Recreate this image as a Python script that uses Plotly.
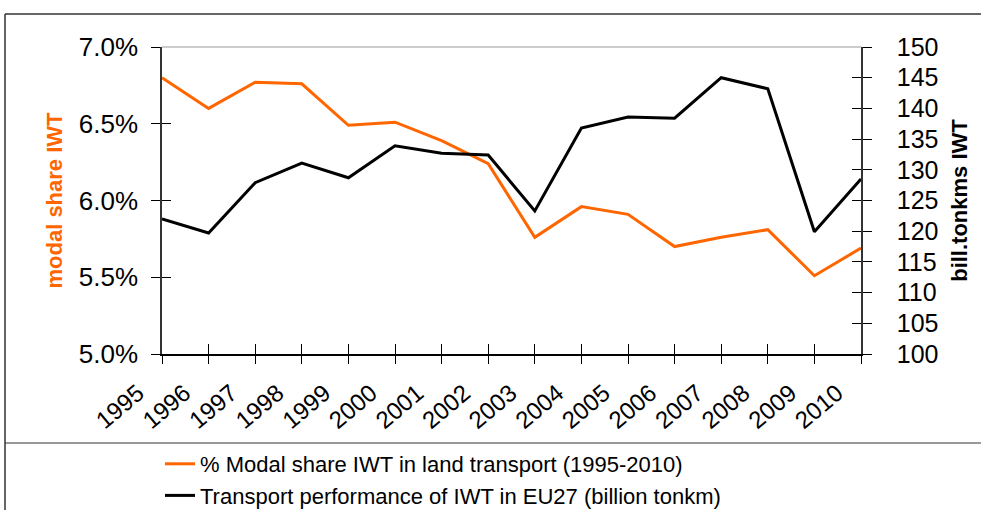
import plotly.graph_objects as go

years = [str(y) for y in range(1995, 2011)]
modal_share = [6.80, 6.60, 6.77, 6.76, 6.49, 6.51, 6.39, 6.24, 5.76, 5.96, 5.91, 5.70, 5.76, 5.81, 5.51, 5.69]
performance = [122.0, 119.7, 127.9, 131.1, 128.7, 133.9, 132.7, 132.4, 123.3, 136.8, 138.6, 138.4, 145.0, 143.2, 119.9, 128.5]
left_ticks = [5.0, 5.5, 6.0, 6.5, 7.0]
left_ticktext = ["5.0%", "5.5%", "6.0%", "6.5%", "7.0%"]
right_ticks = list(range(100, 151, 5))

name_share = "% Modal share IWT in land transport (1995-2010)"
name_perf = "Transport performance of IWT in EU27 (billion tonkm)"

ORANGE = "#FF6600"
FONT = "Liberation Sans, Arial, sans-serif"

fig = go.Figure()
fig.add_trace(go.Scatter(x=years, y=modal_share, name=name_share, mode="lines",
                         line=dict(color=ORANGE, width=3), yaxis="y", legendgroup="a"))
fig.add_trace(go.Scatter(x=years, y=performance, name=name_perf, mode="lines",
                         line=dict(color="black", width=3), yaxis="y2", legendgroup="b"))
# helper traces for inner tick halves (invisible)
fig.add_trace(go.Scatter(x=years, y=modal_share, mode="lines", line=dict(width=0),
                         xaxis="x2", yaxis="y3", showlegend=False, hoverinfo="skip"))
fig.add_trace(go.Scatter(x=years, y=performance, mode="lines", line=dict(width=0),
                         xaxis="x2", yaxis="y4", showlegend=False, hoverinfo="skip"))

def px_x(p):
    return (p - 162) / 699

def px_y(p):
    return (354 - p) / 307

shapes = [
    dict(type="line", xref="paper", yref="paper", x0=px_x(5), x1=px_x(5), y0=px_y(14), y1=px_y(520),
         line=dict(color="#333333", width=1.5)),
    dict(type="line", xref="paper", yref="paper", x0=px_x(5), x1=px_x(990), y0=px_y(14), y1=px_y(14),
         line=dict(color="#333333", width=1.5)),
    dict(type="line", xref="paper", yref="paper", x0=px_x(5), x1=px_x(990), y0=px_y(443), y1=px_y(443),
         line=dict(color="#333333", width=1)),
    dict(type="line", xref="paper", yref="paper", x0=0, x1=1, y0=1, y1=1,
         line=dict(color="#999999", width=1)),
]

fig.update_layout(
    width=981, height=510,
    margin=dict(l=162, r=120, t=47, b=156, autoexpand=False),
    paper_bgcolor="white", plot_bgcolor="white",
    font=dict(family=FONT, color="black"),
    showlegend=True,
    legend=dict(x=px_x(160), y=px_y(443), xanchor="left", yanchor="top",
                font=dict(size=22, family=FONT), tracegroupgap=0, traceorder="grouped",
                bgcolor="rgba(0,0,0,0)"),
    shapes=shapes,
    xaxis=dict(type="category", range=[0, 15], showgrid=False, showline=True, linecolor="black",
               linewidth=1.5, ticks="outside", ticklen=8, tickcolor="black", tickwidth=1,
               tickangle=-40, tickfont=dict(size=24, family=FONT), zeroline=False,
               ticklabelstandoff=6, ticklabelshift=-24),
    xaxis2=dict(type="category", range=[0, 15], overlaying="x", showgrid=False, showline=False,
                ticks="inside", ticklen=10, tickcolor="black", tickwidth=1, showticklabels=False,
                zeroline=False),
    yaxis=dict(range=[5.0, 7.0], tickvals=left_ticks, ticktext=left_ticktext, showgrid=False,
               showline=True, linecolor="#333333", linewidth=1.5, ticks="outside", ticklen=9,
               tickcolor="black", tickwidth=1, tickfont=dict(size=26, family=FONT),
               ticklabelstandoff=8, zeroline=False,
               title=dict(text="<b>modal share IWT</b>", font=dict(size=22, color=ORANGE, family=FONT),
                          standoff=10)),
    yaxis2=dict(range=[100, 150], tickvals=right_ticks, overlaying="y", side="right", showgrid=False,
                showline=True, linecolor="#333333", linewidth=1.5, ticks="outside", ticklen=9,
                tickcolor="black", tickwidth=1, tickfont=dict(size=25, family=FONT),
                ticklabelstandoff=20, zeroline=False,
                title=dict(text="<b>bill.tonkms IWT</b>", font=dict(size=22, color="black", family=FONT),
                           standoff=14)),
    yaxis3=dict(range=[5.0, 7.0], tickvals=left_ticks, overlaying="y", side="left", showgrid=False,
                showline=False, ticks="inside", ticklen=9, tickcolor="black", tickwidth=1,
                showticklabels=False, zeroline=False),
    yaxis4=dict(range=[100, 150], tickvals=right_ticks, overlaying="y", side="right", showgrid=False,
                showline=False, ticks="inside", ticklen=9, tickcolor="black", tickwidth=1,
                showticklabels=False, zeroline=False),
)

fig.write_html("out.html", config={"displayModeBar": False},
               post_script="document.body.style.margin='0';")
